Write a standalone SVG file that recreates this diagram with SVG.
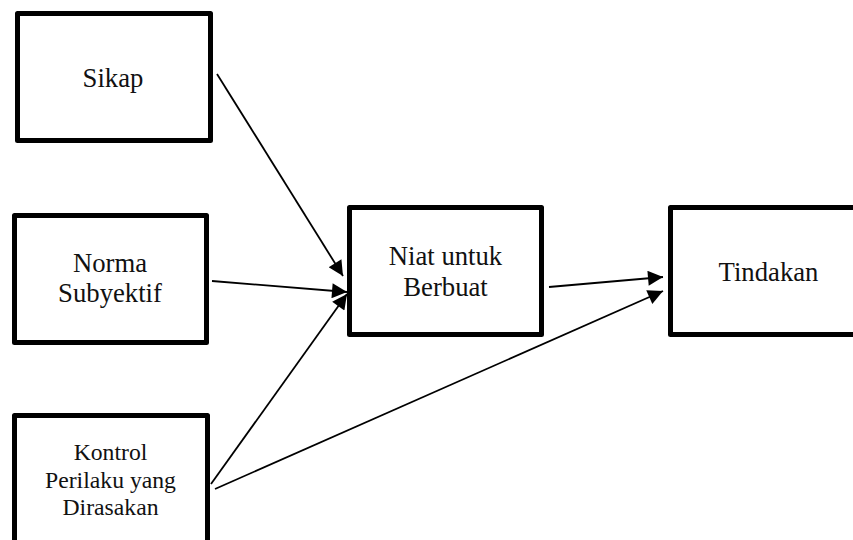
<svg xmlns="http://www.w3.org/2000/svg" width="853" height="540" viewBox="0 0 853 540">
<style>
.box{fill:#fff;stroke:#000;stroke-width:5;stroke-linejoin:round}
.t{font-family:'Liberation Serif','Times New Roman',serif;font-size:26.7px;fill:#111;text-anchor:middle}
.s{font-size:23.7px}
.c{stroke:#000;stroke-width:1.8;fill:none;marker-end:url(#ah)}
</style>
<defs>
<marker id="ah" viewBox="0 0 10 10" refX="10" refY="5" markerUnits="userSpaceOnUse" markerWidth="18" markerHeight="15" orient="auto">
<path d="M0,0 L10,5 L0,10 Z" fill="#000"/>
</marker>
</defs>
<rect x="0" y="0" width="853" height="540" fill="#fff"/>
<g id="sikap">
<rect class="box" x="17.5" y="13.5" width="193" height="127"/>
<text class="t" x="113" y="87">Sikap</text>
</g>
<g id="norma">
<rect class="box" x="14.5" y="215.5" width="192" height="127"/>
<text class="t" x="110" y="272">Norma</text>
<text class="t" x="110" y="301.5">Subyektif</text>
</g>
<g id="kontrol">
<rect class="box" x="14.5" y="415.5" width="193" height="200"/>
<text class="t s" x="110.5" y="460">Kontrol</text>
<text class="t s" x="110.5" y="487.5">Perilaku yang</text>
<text class="t s" x="110.5" y="515">Dirasakan</text>
</g>
<g id="niat">
<rect class="box" x="349.5" y="207.5" width="192" height="127"/>
<text class="t" x="445.5" y="265">Niat untuk</text>
<text class="t" x="445.5" y="296">Berbuat</text>
</g>
<g id="tindakan">
<rect class="box" x="670.5" y="207.5" width="300" height="127"/>
<text class="t" x="768.5" y="280.5">Tindakan</text>
</g>
<g id="connectors">
<line class="c" x1="217" y1="74" x2="343" y2="276"/>
<line class="c" x1="212" y1="281" x2="347" y2="292"/>
<line class="c" x1="211" y1="484" x2="347" y2="294"/>
<line class="c" x1="549" y1="287" x2="663" y2="277"/>
<line class="c" x1="215" y1="489" x2="663" y2="291"/>
</g>
</svg>
